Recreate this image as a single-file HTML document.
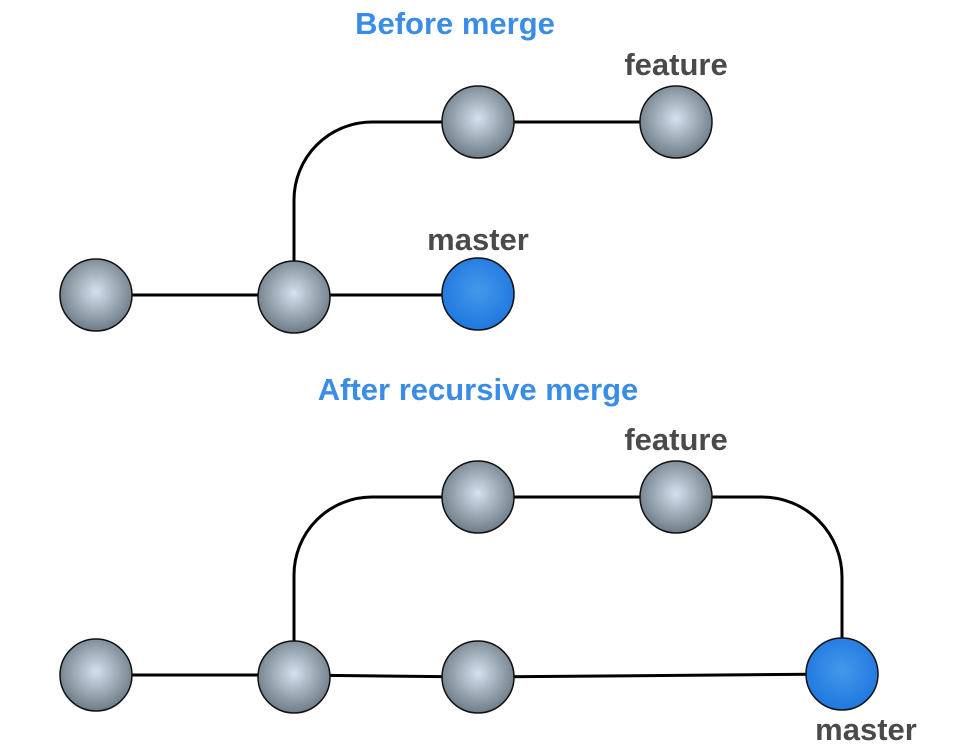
<!DOCTYPE html>
<html><head><meta charset="utf-8"><style>
html,body{margin:0;padding:0;background:#fff;width:975px;height:745px;overflow:hidden}
text{font-family:"Liberation Sans",sans-serif;font-weight:bold}
</style></head><body>
<svg width="975" height="745" xmlns="http://www.w3.org/2000/svg">
<defs>
<radialGradient id="g" cx="0.5" cy="0.45" r="0.55">
<stop offset="0" stop-color="#d3e2ee"/><stop offset="1" stop-color="#6d7c86"/>
</radialGradient>
<radialGradient id="b" cx="0.5" cy="0.45" r="0.55">
<stop offset="0" stop-color="#4598ea"/><stop offset="1" stop-color="#1f78e0"/>
</radialGradient>
</defs>
<g fill="none" stroke="#000" stroke-width="3">
<path d="M96 295 H294 H478"/>
<path d="M294 261 V200 A78 78 0 0 1 372 122 H676"/>
<path d="M96 675 H294 L478 677 L842 674"/>
<path d="M294 641 V575 A78 78 0 0 1 372 497 H676 H762 A80 80 0 0 1 842 577 V638"/>
</g>
<g stroke="#111" stroke-width="1.5">
<circle cx="96" cy="295" r="36" fill="url(#g)"/>
<circle cx="294" cy="297" r="36" fill="url(#g)"/>
<circle cx="478" cy="294" r="36" fill="url(#b)"/>
<circle cx="478" cy="122" r="36" fill="url(#g)"/>
<circle cx="676" cy="122" r="36" fill="url(#g)"/>
<circle cx="96" cy="675" r="36" fill="url(#g)"/>
<circle cx="294" cy="677" r="36" fill="url(#g)"/>
<circle cx="478" cy="677" r="36" fill="url(#g)"/>
<circle cx="842" cy="674" r="36" fill="url(#b)"/>
<circle cx="478" cy="497" r="36" fill="url(#g)"/>
<circle cx="676" cy="497" r="36" fill="url(#g)"/>
</g>
<g text-anchor="middle">
<text x="455" y="34" font-size="31" fill="#3a8de6">Before merge</text>
<text x="478" y="400" font-size="31" fill="#3a8de6">After recursive merge</text>
<g fill="#4a4a4a" font-size="31">
<text x="676" y="75">feature</text>
<text x="478" y="250">master</text>
<text x="676" y="450">feature</text>
<text x="866" y="740">master</text>
</g>
</g>
</svg>
</body></html>
